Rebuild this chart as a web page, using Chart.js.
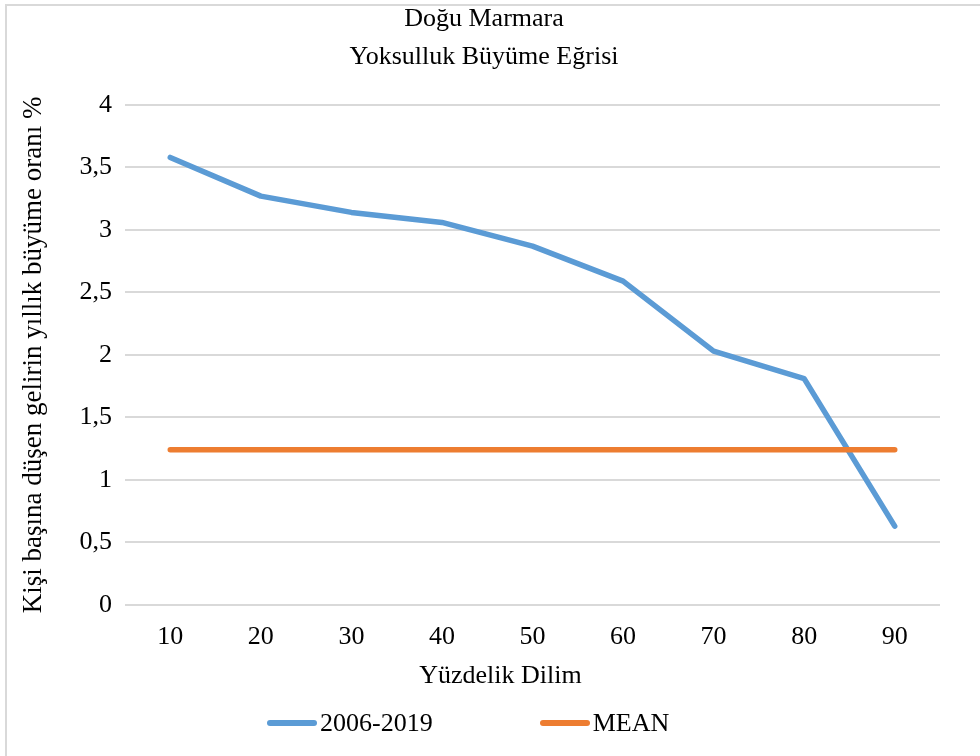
<!DOCTYPE html>
<html lang="tr">
<head>
<meta charset="utf-8">
<title>Doğu Marmara - Yoksulluk Büyüme Eğrisi</title>
<script src="https://cdn.jsdelivr.net/npm/chart.js@4.4.1/dist/chart.umd.min.js"></script>
<style>
  html, body { margin: 0; padding: 0; background: #fff; overflow: hidden; }
  .wrap { position: relative; width: 980px; height: 756px; }
  .frame { position: absolute; left: 5px; top: 4px; width: 1200px; height: 1000px; border: 2px solid #d9d9d9; box-sizing: border-box; pointer-events: none; }
  #chart { position: absolute; left: 0; top: 0; }
  .legend { position: absolute; left: 267px; top: 708px; display: flex; gap: 107px; font: 26px "Liberation Serif", "Times New Roman", serif; color: #000; }
  .legend .item { display: flex; align-items: center; white-space: nowrap; }
  .legend .swatch { width: 50px; height: 6px; border-radius: 3px; margin-right: 3px; }
</style>
</head>
<body>
<div class="wrap">
  <div class="frame"></div>
  <canvas id="chart" width="980" height="756"></canvas>
  <div class="legend" id="legend"></div>
</div>
<script>
// Yüzdelik dilimler ve büyüme oranları
const dilimler = ['10', '20', '30', '40', '50', '60', '70', '80', '90'];
const buyume = [3.58, 3.27, 3.14, 3.06, 2.87, 2.59, 2.03, 1.81, 0.63];
const ortalama = [1.24, 1.24, 1.24, 1.24, 1.24, 1.24, 1.24, 1.24, 1.24];
const yTicks = [0, 0.5, 1, 1.5, 2, 2.5, 3, 3.5, 4];

const baslik = ['Doğu Marmara', 'Yoksulluk Büyüme Eğrisi'];
const xBaslik = 'Yüzdelik Dilim';
const yBaslik = 'Kişi başına düşen gelirin yıllık büyüme oranı %';

const serif = '"Liberation Serif", "Times New Roman", serif';
const mavi = '#5b9bd5';
const turuncu = '#ed7d31';

// başlık ve eksen başlığını biraz kaydır
const kutuKaydir = {
  id: 'kutuKaydir',
  afterLayout(chart) {
    if (chart.titleBlock) chart.titleBlock.left = 28;
    const alt = chart.boxes.find(b => b !== chart.titleBlock && b.options && b.options.text === xBaslik);
    if (alt) alt.left = 61;
  }
};

const ctx = document.getElementById('chart').getContext('2d');
const chart = new Chart(ctx, {
  type: 'line',
  data: {
    labels: dilimler,
    datasets: [{
      label: '2006-2019',
      data: buyume,
      borderColor: mavi,
      backgroundColor: mavi,
      borderWidth: 5.5,
      borderCapStyle: 'round',
      borderJoinStyle: 'round',
      pointRadius: 0,
      tension: 0,
      order: 2
    }, {
      label: 'MEAN',
      data: ortalama,
      borderColor: turuncu,
      backgroundColor: turuncu,
      borderWidth: 5.5,
      borderCapStyle: 'round',
      pointRadius: 0,
      tension: 0,
      order: 1
    }]
  },
  options: {
    responsive: false,
    animation: false,
    layout: { padding: { left: 18, right: 40, top: 0, bottom: 64 } },
    plugins: {
      legend: { display: false },
      tooltip: { enabled: false },
      title: {
        display: true,
        text: baslik,
        color: '#000',
        font: { family: serif, size: 26, weight: 'normal', lineHeight: 1.46 },
        padding: { top: 0, bottom: 29 }
      },
      subtitle: {
        display: true,
        position: 'bottom',
        text: xBaslik,
        color: '#000',
        font: { family: serif, size: 26, weight: 'normal', lineHeight: 1.2 },
        padding: { top: 6, bottom: 0 }
      }
    },
    scales: {
      x: {
        offset: true,
        grid: { display: false, drawTicks: false, offset: true },
        border: { display: false },
        ticks: { color: '#000', padding: 17, font: { family: serif, size: 26 } },
        afterFit(scale) { scale.height = 50; }
      },
      y: {
        min: 0,
        max: 4,
        afterBuildTicks(scale) { scale.ticks = yTicks.map(v => ({ value: v })); },
        grid: { color: '#d9d9d9', lineWidth: 2, drawTicks: false },
        border: { display: false },
        ticks: {
          color: '#000',
          padding: 13,
          font: { family: serif, size: 26 },
          callback: v => String(v).replace('.', ',')
        },
        title: {
          display: true,
          text: yBaslik,
          color: '#000',
          font: { family: serif, size: 27, lineHeight: 1.2 },
          padding: 0
        },
        afterFit(scale) { scale.width = 107; }
      }
    }
  },
  plugins: [kutuKaydir]
});

// lejant: veri setlerinden çizgi örnekleri
const legendEl = document.getElementById('legend');
chart.data.datasets.forEach(ds => {
  const item = document.createElement('div');
  item.className = 'item';
  const sw = document.createElement('span');
  sw.className = 'swatch';
  sw.style.background = ds.borderColor;
  const txt = document.createElement('span');
  txt.textContent = ds.label;
  item.appendChild(sw);
  item.appendChild(txt);
  legendEl.appendChild(item);
});
</script>
</body>
</html>
